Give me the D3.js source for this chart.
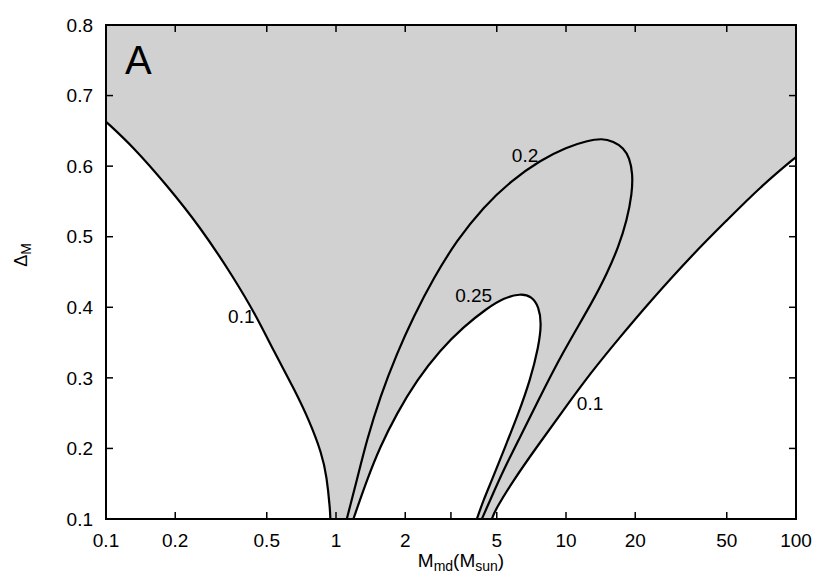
<!DOCTYPE html>
<html>
<head>
<meta charset="utf-8">
<script src="https://cdn.jsdelivr.net/npm/d3@7"></script>
<style>
  body { margin: 0; background: #fff; }
  text { font-family: "Liberation Sans", Arial, Helvetica, sans-serif; fill: #000; }
</style>
</head>
<body>
<div id="chart"></div>
<script>
// contour 0.1, left branch  [M_md, Delta_M]
var c010Left = [[0.1,0.663],[0.1316,0.627],[0.1837,0.573],[0.2564,0.514],[0.3578,0.443],
  [0.4522,0.3865],[0.5341,0.339],[0.6606,0.283],[0.7638,0.240],[0.8674,0.193],
  [0.912,0.160],[0.9426,0.113],[0.945,0.1]];
// contour 0.1, right branch
var c010Right = [[4.76,0.1],[4.92,0.1127],[5.91,0.155],[7.47,0.2023],[9.75,0.2543],
  [12.74,0.3063],[17.21,0.3581],[22.79,0.4054],[35.86,0.4763],
  [50.11,0.5234],[69.95,0.5706],[100,0.613]];
// contour 0.2 (closed on the bottom axis)
var c020 = [[1.114,0.1],[1.232,0.155],[1.361,0.2118],[1.555,0.2732],[1.839,0.3346],
  [2.171,0.3865],[2.653,0.4413],[3.354,0.4951],[4.377,0.5422],[5.76,0.5790],
  [7.723,0.6084],[10.09,0.6272],[12.33,0.6357],[14.33,0.6395],[16.09,0.6350],
  [17.79,0.626],[18.89,0.6115],[19.50,0.5895],[19.38,0.5612],
  [18.40,0.5234],[16.92,0.4856],[15.07,0.4479],[13.17,0.4101],
  [9.436,0.3298],[7.723,0.2732],[6.322,0.2165],[5.347,0.1694],[4.681,0.1269],[4.307,0.1]];
// contour 0.25 (white inside)
var c025 = [[1.190,0.1],[1.361,0.155],[1.555,0.2023],[1.839,0.2497],[2.246,0.2968],
  [2.836,0.3393],[3.583,0.3723],[4.529,0.3984],[5.347,0.4130],[6.322,0.4195],
  [7.108,0.4155],[7.62,0.4006],[7.83,0.3771],[7.60,0.344],[6.988,0.2968],
  [6.215,0.2497],[5.439,0.2023],[4.762,0.155],[4.377,0.1269],[4.096,0.1]];

var contourLabels = [
  {text:"0.1", x:0.3394, y:0.3775},
  {text:"0.2", x:5.816, y:0.606},
  {text:"0.25", x:3.296, y:0.4077},
  {text:"0.1", x:11.15, y:0.2543}
];
var xTicks = [0.1,0.2,0.5,1,2,5,10,20,50,100];
var xTickLabels = ["0.1","0.2","0.5","1","2","5","10","20","50","100"];
var xExtraTick = [3.16];
var yTicks = [0.1,0.2,0.3,0.4,0.5,0.6,0.7,0.8];

var width = 831, height = 582;
var margin = {left:106, right:35, top:25, bottom:63};

var svg = d3.select("#chart").append("svg").attr("width", width).attr("height", height);

var x = d3.scaleLog().domain([0.1,100]).range([margin.left, width - margin.right]);
var y = d3.scaleLinear().domain([0.1,0.8]).range([height - margin.bottom, margin.top]);

svg.append("clipPath").attr("id","clip").append("rect")
  .attr("x", x(0.1)).attr("y", y(0.8))
  .attr("width", x(100)-x(0.1)).attr("height", y(0.1)-y(0.8));

var plot = svg.append("g").attr("clip-path","url(#clip)");

var line = d3.line().x(function(d){ return x(d[0]); }).y(function(d){ return y(d[1]); })
  .curve(d3.curveBasis);

// gray band
plot.append("rect").attr("x", x(0.1)).attr("y", y(0.8))
  .attr("width", x(100)-x(0.1)).attr("height", y(0.1)-y(0.8))
  .attr("fill","#d1d1d1");

// white regions
plot.append("path").attr("fill","#fff")
  .attr("d", line(c010Left) + "L" + x(0.1) + "," + y(0.1) + "Z");
plot.append("path").attr("fill","#fff")
  .attr("d", line(c010Right) + "L" + x(100) + "," + y(0.1) + "L" + x(4.76) + "," + y(0.1) + "Z");
plot.append("path").attr("fill","#fff")
  .attr("d", line(c025) + "Z");

// contour lines
[c010Left, c010Right, c020, c025].forEach(function(c){
  plot.append("path").attr("d", line(c)).attr("fill","none")
    .attr("stroke","#000").attr("stroke-width",2.2).attr("stroke-linejoin","round");
});

// ticks
var tl = 7;
var ticks = svg.append("g").attr("stroke","#000").attr("stroke-width",1.5);
xTicks.forEach(function(t){
  ticks.append("line").attr("x1",x(t)).attr("x2",x(t)).attr("y1",y(0.1)).attr("y2",y(0.1)-tl);
  ticks.append("line").attr("x1",x(t)).attr("x2",x(t)).attr("y1",y(0.8)).attr("y2",y(0.8)+tl);
});
xExtraTick.forEach(function(t){
  ticks.append("line").attr("x1",x(t)).attr("x2",x(t)).attr("y1",y(0.1)).attr("y2",y(0.1)-tl);
});
yTicks.forEach(function(t){
  ticks.append("line").attr("x1",x(0.1)).attr("x2",x(0.1)+tl).attr("y1",y(t)).attr("y2",y(t));
  ticks.append("line").attr("x1",x(100)).attr("x2",x(100)-tl).attr("y1",y(t)).attr("y2",y(t));
});

// frame
svg.append("rect").attr("x", x(0.1)).attr("y", y(0.8))
  .attr("width", x(100)-x(0.1)).attr("height", y(0.1)-y(0.8))
  .attr("fill","none").attr("stroke","#000").attr("stroke-width",2);

// tick labels
xTicks.forEach(function(t,i){
  svg.append("text").attr("x", x(t)).attr("y", y(0.1)+28)
    .attr("text-anchor","middle").attr("font-size",19).text(xTickLabels[i]);
});
yTicks.forEach(function(t){
  svg.append("text").attr("x", x(0.1)-13).attr("y", y(t)).attr("dy","0.35em")
    .attr("text-anchor","end").attr("font-size",19).text(d3.format(".1f")(t));
});

// contour labels
contourLabels.forEach(function(d){
  svg.append("text").attr("x", x(d.x)).attr("y", y(d.y)).attr("font-size",19).text(d.text);
});

// panel letter
svg.append("text").attr("x", x(0.1209)).attr("y", y(0.730)).attr("font-size",40).text("A");

// axis titles
var xt = svg.append("text").attr("x", 461).attr("y", 567).attr("text-anchor","middle").attr("font-size",19);
xt.append("tspan").text("M");
xt.append("tspan").attr("font-size",14).attr("dy",4).text("md");
xt.append("tspan").attr("dy",-4).text("(M");
xt.append("tspan").attr("font-size",14).attr("dy",4).text("sun");
xt.append("tspan").attr("dy",-4).text(")");

var yt = svg.append("text").attr("transform","translate(27,255) rotate(-90)")
  .attr("text-anchor","middle").attr("font-size",18);
yt.append("tspan").text("\u0394");
yt.append("tspan").attr("font-size",14).attr("dy",4).text("M");
</script>
</body>
</html>
